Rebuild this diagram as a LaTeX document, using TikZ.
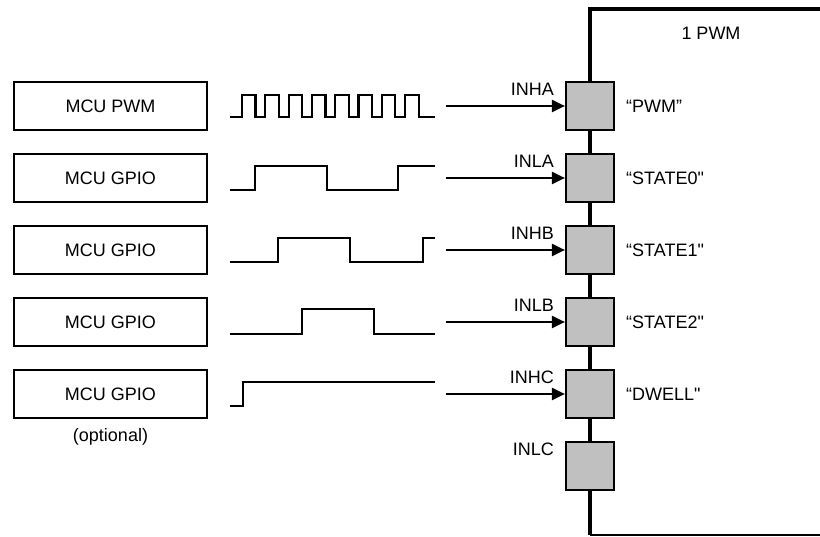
\documentclass[tikz,border=0pt]{standalone}
\usepackage{fontspec}
\setmainfont{Liberation Sans}[Ligatures=TeXOff]
\usetikzlibrary{arrows.meta}
\definecolor{pingray}{HTML}{C0C0C0}
\begin{document}
\begin{tikzpicture}[x=1pt,y=-1pt,
  font=\fontsize{18}{21}\selectfont,
  mcubox/.style={draw,line width=2.2pt,minimum width=193pt,minimum height=48pt,inner sep=0pt},
  pinbox/.style={draw,fill=pingray,line width=2.2pt,minimum width=48pt,minimum height=48pt,inner sep=0pt},
  wave/.style={line width=2.2pt},
  sig/.style={line width=2.2pt,-{Triangle[length=13pt,width=12pt]}},
  pinlabel/.style={anchor=east,inner sep=0pt},
  funclabel/.style={anchor=west,inner sep=0pt}]
\useasboundingbox (0,0) rectangle (820,537);
% chip outline
\draw[line width=3.2pt] (822,9) -- (590,9) -- (590,535);
\draw[line width=1.2pt] (590,535) -- (822,535);
\node at (711,33) {1 PWM};
% MCU boxes
\node[mcubox] (m1) at (110.5,106) {MCU PWM};
\node[mcubox] (m2) at (110.5,178) {MCU GPIO};
\node[mcubox] (m3) at (110.5,250) {MCU GPIO};
\node[mcubox] (m4) at (110.5,322) {MCU GPIO};
\node[mcubox] (m5) at (110.5,394) {MCU GPIO};
\node (opt) at (110.5,437) {(optional)};
% pins
\node[pinbox] (p1) at (590,106) {};
\node[pinbox] (p2) at (590,178) {};
\node[pinbox] (p3) at (590,250) {};
\node[pinbox] (p4) at (590,322) {};
\node[pinbox] (p5) at (590,394) {};
\node[pinbox] (p6) at (590,466) {};
% pin labels
\node[pinlabel] (l1) at (554,89) {INHA};
\node[pinlabel] (l2) at (554,161) {INLA};
\node[pinlabel] (l3) at (554,233) {INHB};
\node[pinlabel] (l4) at (554,305) {INLB};
\node[pinlabel] (l5) at (554,377) {INHC};
\node[pinlabel] (l6) at (554,449) {INLC};
% function labels
\node[funclabel] (f1) at (626,106) {“PWM”};
\node[funclabel] (f2) at (626,178) {“STATE0"};
\node[funclabel] (f3) at (626,250) {“STATE1"};
\node[funclabel] (f4) at (626,322) {“STATE2"};
\node[funclabel] (f5) at (626,394) {“DWELL"};
% arrows
\coordinate (a1) at (446,106);
\coordinate (a2) at (446,178);
\coordinate (a3) at (446,250);
\coordinate (a4) at (446,322);
\coordinate (a5) at (446,394);
\draw[sig] (a1) -- (p1.west);
\draw[sig] (a2) -- (p2.west);
\draw[sig] (a3) -- (p3.west);
\draw[sig] (a4) -- (p4.west);
\draw[sig] (a5) -- (p5.west);
% waveforms
\draw[wave] (230,117) foreach \i in {0,...,7} { -- ({242+23.3*\i},117) -- ++(0,-22) -- ++(13.5,0) -- ++(0,22) } -- (435,117);
\draw[wave] (230,190) -- (255,190) -- (255,166) -- (327,166) -- (327,190) -- (398,190) -- (398,166) -- (435,166);
\draw[wave] (230,262) -- (278,262) -- (278,238) -- (350,238) -- (350,262) -- (423,262) -- (423,238) -- (435,238);
\draw[wave] (230,334) -- (302,334) -- (302,309) -- (374,309) -- (374,334) -- (435,334);
\draw[wave] (230,406) -- (243,406) -- (243,382) -- (435,382);
\end{tikzpicture}
\end{document}
